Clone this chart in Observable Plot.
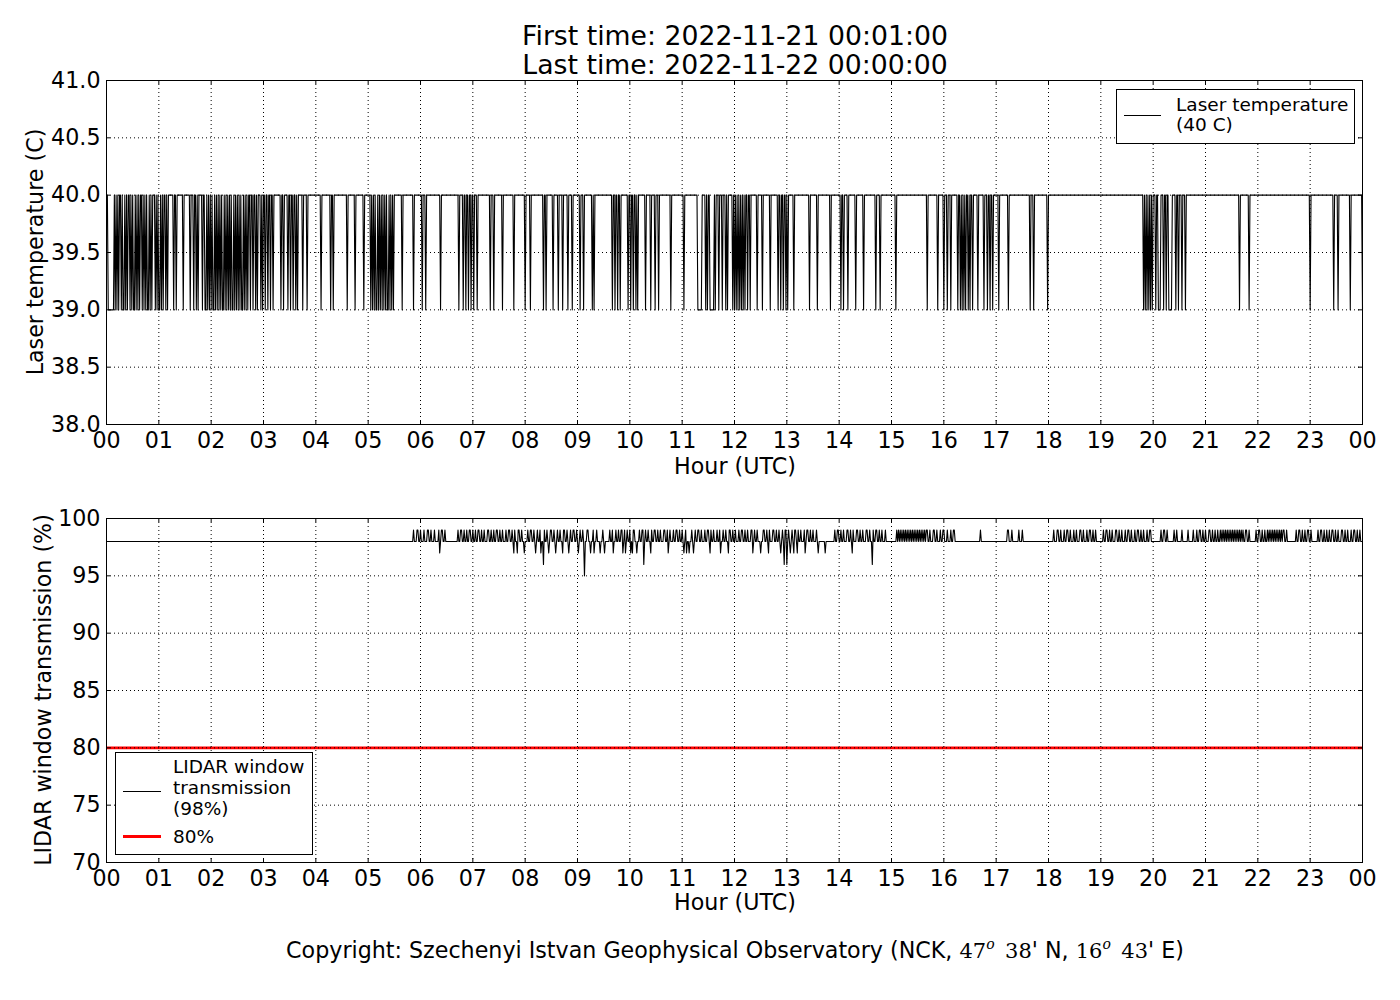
<!DOCTYPE html>
<html>
<head>
<meta charset="utf-8">
<script src="https://cdn.jsdelivr.net/npm/d3@7"></script>
<script src="https://cdn.jsdelivr.net/npm/@observablehq/plot@0.6"></script>
<style>
  html, body { margin: 0; padding: 0; background: #fff; }
  #root { position: relative; width: 1400px; height: 1000px; font-family: "DejaVu Sans", sans-serif; color: #000; overflow: hidden; }
  .abs { position: absolute; white-space: nowrap; }
  .center { transform: translate(-50%, -50%); }
  .rot { transform: translate(-50%, -50%) rotate(-90deg); }
  .legend { position: absolute; border: 1px solid #000; background: #fff; box-sizing: border-box; }
  .m { font-family: "DejaVu Serif", serif; font-size: 21px; }
  .m sup { font-style: italic; font-size: 14px; vertical-align: 9px; line-height: 0; }
</style>
</head>
<body>
<div id="root">
  <div class="abs center" style="left:735px; top:35px; font-size:26.7px;">First time: 2022-11-21 00:01:00</div>
  <div class="abs center" style="left:735px; top:64px; font-size:26.7px;">Last time: 2022-11-22 00:00:00</div>

  <div id="top" class="abs" style="left:0; top:70px;"></div>
  <div id="bottom" class="abs" style="left:0; top:508px;"></div>

  <div class="abs rot" style="left:35px; top:252px; font-size:22.2px;">Laser temperature (C)</div>
  <div class="abs center" style="left:735px; top:466px; font-size:22.2px;">Hour (UTC)</div>
  <div class="abs rot" style="left:43px; top:690px; font-size:22.2px;">LIDAR window transmission (%)</div>
  <div class="abs center" style="left:735px; top:902px; font-size:22.2px;">Hour (UTC)</div>

  <div class="legend" style="left:1116px; top:89px; width:239px; height:55px;">
    <div class="abs" style="left:7px; top:25px; width:37px; height:0; border-top:1px solid #000;"></div>
    <div class="abs" style="left:59px; top:5px; font-size:18.5px; line-height:20px;">Laser temperature<br>(40 C)</div>
  </div>

  <div class="legend" style="left:115px; top:752px; width:198px; height:103px;">
    <div class="abs" style="left:7px; top:38px; width:38px; height:0; border-top:1px solid #000;"></div>
    <div class="abs" style="left:57px; top:3px; font-size:18.5px; line-height:21px;">LIDAR window<br>transmission<br>(98%)</div>
    <div class="abs" style="left:7px; top:82px; width:38px; height:3px; background:#ff0000;"></div>
    <div class="abs" style="left:57px; top:73px; font-size:18.5px; line-height:21px;">80%</div>
  </div>

  <div class="abs center" style="left:735px; top:950px; font-size:22.2px;">Copyright: Szechenyi Istvan Geophysical Observatory (NCK, <span class="m">47<sup>o</sup>&ensp;38</span>' N, <span class="m">16<sup>o</sup>&ensp;43</span>' E)</div>
</div>

<script>
// ---------- axis ticks ----------
const hourTicks = [0,1,2,3,4,5,6,7,8,9,10,11,12,13,14,15,16,17,18,19,20,21,22,23,24];
const hourLabels = ["00","01","02","03","04","05","06","07","08","09","10","11","12","13","14","15","16","17","18","19","20","21","22","23","00"];
const laserTicks = [38.0, 38.5, 39.0, 39.5, 40.0, 40.5, 41.0];
const laserTickLabels = ["38.0","38.5","39.0","39.5","40.0","40.5","41.0"];
const windowTicks = [70, 75, 80, 85, 90, 95, 100];
const windowTickLabels = ["70","75","80","85","90","95","100"];

// ---------- data ----------
// one sample per minute, 00:01 .. 24:00
const firstMinute = 1, lastMinute = 1440;
const laserLevel = 40, laserLow = 39;
// [start minute, duration in minutes] at 39 C
const laserDips = [
  [2,7],[10,1],[12,1],[14,1],[17,1],[19,2],[22,1],[24,1],[27,1],[29,1],[31,2],[34,1],[36,1],[38,1],[41,1],[43,1],[45,1],[47,2],[50,1],[52,1],
  [56,1],[58,1],[60,2],[63,1],[65,1],[68,1],[70,1],[77,1],[80,1],[88,1],[96,1],[100,1],[103,1],[105,1],
  [110,1],[113,2],[116,1],[118,1],[120,1],[122,2],[125,1],[127,1],[129,1],[131,1],[133,2],[136,1],[138,1],[140,1],[142,1],[144,2],[147,1],[149,1],[151,1],[153,1],[155,2],[158,1],[160,1],[162,1],
  [165,1],[168,1],[171,1],[173,1],[177,1],[179,1],[182,1],[185,1],[188,1],[191,1],[200,1],[203,1],[208,1],[211,1],[214,1],[217,1],[219,1],[225,1],[230,1],
  [246,1],[257,1],[260,1],[276,1],[285,1],[295,1],
  [303,1],[305,1],[307,1],[309,2],[312,1],[314,1],[316,1],[318,1],[320,1],[322,2],[325,1],[327,1],[329,1],
  [339,1],[352,1],[362,1],[366,1],[383,1],[404,1],[409,1],[412,1],[415,1],[418,1],[421,1],[425,1],
  [440,1],[444,1],[454,1],[467,1],[480,1],[486,1],[501,1],[504,1],[512,1],[518,1],[523,1],[529,1],[534,1],[543,1],[547,1],[557,1],[559,1],
  [580,1],[583,1],[586,1],[589,1],[598,1],[601,1],[604,1],[607,1],[609,1],[618,1],[624,1],[629,1],[633,1],[647,1],[662,1],
  [678,5],[687,1],[689,1],[692,5],[698,1],[702,1],[706,1],[710,1],[712,1],
  [718,1],[720,1],[722,1],[724,1],[726,1],[728,1],[730,1],[732,1],[735,1],[738,1],[746,1],[752,1],[761,1],[770,1],[773,1],[776,1],[779,1],[781,1],[788,1],
  [806,1],[815,1],[830,1],[842,1],[845,1],[850,1],[859,1],[868,1],[882,1],[887,1],[905,1],[941,1],[953,1],[960,1],[964,1],[968,1],[976,1],
  [979,1],[981,1],[983,1],[985,1],[988,1],[990,1],[993,1],[999,1],[1006,1],[1010,1],[1013,1],[1016,1],[1023,1],[1034,1],[1059,1],[1063,1],[1079,1],
  [1189,1],[1191,1],[1193,1],[1195,1],[1197,1],[1199,1],[1203,1],[1206,3],[1212,1],[1215,1],[1218,4],[1226,1],[1229,1],[1233,1],[1237,1],
  [1299,1],[1310,1],[1380,1],[1407,1],[1412,1],[1426,1],[1440,1]
];

const windowLevel = 98, windowHigh = 99, windowThreshold = 80;
// [start minute, duration] at 99 %
const windowSpikes = [
  [352,1],[356,2],[360,1],[364,1],[368,2],[372,1],[376,1],[381,1],[384,2],[388,1],
  [403,1],[406,2],[410,1],[413,1],[416,2],[420,1],[423,1],[426,2],[430,1],[433,1],[437,2],[441,1],[444,1],[447,2],[451,1],[454,1],[458,1],[461,2],[465,1],[468,1],[472,2],[476,1],[479,1],[483,1],[486,2],[490,1],[494,1],[497,2],[502,1],[505,1],[509,2],[513,1],[517,1],[520,1],[524,2],[528,1],[532,1],[535,2],[539,1],[543,1],[546,1],[551,2],[555,1],[558,1],[562,1],
  [569,1],[577,1],[580,2],[584,1],[587,1],[590,2],[594,1],[597,1],[600,1],[604,2],[608,1],[611,1],[614,2],[618,1],[621,1],[625,1],[628,2],[632,1],[635,1],[639,2],[643,1],[646,1],[650,1],[653,2],[657,1],[660,1],[664,2],[668,1],[671,1],[675,1],[678,2],[682,1],[686,1],[689,2],[693,1],[696,1],[700,1],[703,2],[707,1],[710,1],[714,2],[718,1],[721,1],[725,1],[728,2],[732,1],[735,1],[739,2],[743,1],[746,1],[750,1],[753,2],[757,1],[760,1],[764,2],[768,1],[771,1],[775,1],[778,2],[782,1],[786,1],[789,2],[793,1],[796,1],[800,1],[803,2],[807,1],[810,1],[814,1],
  [835,1],[838,2],[842,1],[845,1],[849,2],[853,1],[856,1],[860,2],[864,1],[867,1],[871,2],[875,1],[879,1],[882,2],[886,1],[889,1],[893,1],
  [906,1],[908,1],[910,1],[912,1],[914,1],[916,1],[918,1],[920,1],[922,1],[924,1],[926,1],[928,1],[930,1],[932,1],[934,1],[936,1],[938,1],[940,2],[944,1],
  [948,2],[952,1],[956,1],[959,2],[964,1],[968,1],[971,2],
  [1002,1],[1033,2],[1038,1],[1046,1],[1050,1],
  [1086,1],[1090,2],[1094,1],[1098,1],[1101,2],[1105,1],[1109,1],[1112,1],[1116,2],[1120,1],[1124,1],[1127,2],[1131,1],[1134,1],
  [1143,1],[1146,2],[1150,1],[1153,1],[1157,2],[1161,1],[1164,1],[1168,1],[1171,2],[1175,1],[1179,1],[1182,2],[1186,1],[1189,1],[1193,1],[1196,2],
  [1209,1],[1212,2],[1216,1],[1224,1],[1227,1],[1233,1],[1240,1],[1246,1],
  [1250,1],[1253,2],[1257,1],[1260,1],[1264,2],[1268,1],[1271,1],[1274,1],[1277,1],[1279,1],[1281,1],[1283,1],[1285,1],[1287,1],[1289,1],[1291,1],[1293,1],[1295,1],[1297,1],[1299,1],[1301,1],[1303,1],[1306,2],[1310,1],
  [1318,1],[1321,2],[1325,1],[1328,1],[1331,1],[1333,1],[1335,1],[1337,1],[1339,1],[1341,1],[1343,1],[1345,1],[1347,1],[1349,2],[1353,1],
  [1364,1],[1367,2],[1371,1],[1374,1],[1377,2],[1381,1],
  [1389,1],[1392,2],[1396,1],[1399,1],[1402,1],[1405,2],[1409,1],[1412,1],[1416,2],[1420,1],[1423,1],[1427,1],[1430,2],[1434,1],[1437,1]
];
// [minute, value] drops below 98 %
const windowDrops = [
  [382,97],[467,97],[471,97],[479,97],[492,97],[498,97],[501,96],[507,97],[515,97],[523,97],[530,97],[541,97],[548,95],[555,97],[559,97],
  [566,97],[571,97],[581,97],[592,97],[595,97],[601,97],[603,97],[608,97],[616,96],[624,97],[644,97],[662,97],[665,97],[668,97],[673,97],
  [692,97],[704,97],[713,97],[741,97],[750,97],[759,97],[773,97],[777,96],[780,96],[784,97],[788,97],[792,97],[801,97],[816,97],[824,97],
  [855,97],[878,96]
];

// ---------- build series ----------
const minutes = d3.range(firstMinute, lastMinute + 1);
const laserSeries = minutes.map(m => ({h: m / 60, v: laserLevel}));
for (const [s, len] of laserDips) for (let m = s; m < s + len; m++) if (m >= firstMinute && m <= lastMinute) laserSeries[m - firstMinute].v = laserLow;

const windowSeries = minutes.map(m => ({h: m / 60, v: windowLevel}));
for (const [s, len] of windowSpikes) for (let m = s; m < s + len; m++) if (m >= firstMinute && m <= lastMinute) windowSeries[m - firstMinute].v = windowHigh;
for (const [m, v] of windowDrops) windowSeries[m - firstMinute].v = v;

// ---------- panels ----------
const W = 1400, H = 410, mL = 106, mR = 38, mT = 10, mB = 56;
const frameW = W - mL - mR, frameH = H - mT - mB;
const tickLen = 4;
const tickFont = 22.2;

function panel({data, yDomain, yTicks, yLabels, extra = []}) {
  return Plot.plot({
    width: W, height: H,
    marginLeft: mL, marginRight: mR, marginTop: mT, marginBottom: mB,
    style: {fontFamily: "DejaVu Sans", fontSize: tickFont + "px", color: "#000", background: "transparent", overflow: "visible"},
    x: {domain: [0, 24], axis: null},
    y: {domain: yDomain, axis: null},
    marks: [
      ...extra,
      Plot.ruleX(hourTicks, {x: d => d, stroke: "#000", strokeWidth: 1, strokeDasharray: "1,3"}),
      Plot.ruleY(yTicks, {y: d => d, stroke: "#000", strokeWidth: 1, strokeDasharray: "1,3"}),
      Plot.line(data, {x: "h", y: "v", stroke: "#000", strokeWidth: 1.1}),
      Plot.tickX(hourTicks, {x: d => d, stroke: "#000", insetTop: frameH - tickLen}),
      Plot.tickX(hourTicks, {x: d => d, stroke: "#000", insetBottom: frameH - tickLen}),
      Plot.tickY(yTicks, {y: d => d, stroke: "#000", insetRight: frameW - tickLen}),
      Plot.tickY(yTicks, {y: d => d, stroke: "#000", insetLeft: frameW - tickLen}),
      Plot.frame({stroke: "#000", strokeWidth: 1}),
      Plot.axisX(hourTicks, {anchor: "bottom", tickSize: 0, tickPadding: 8, fontSize: tickFont, tickFormat: (d, i) => hourLabels[i], label: null}),
      Plot.axisY(yTicks, {anchor: "left", tickSize: 0, tickPadding: 6, fontSize: tickFont, tickFormat: (d, i) => yLabels[i], label: null})
    ]
  });
}

document.getElementById("top").appendChild(panel({
  data: laserSeries, yDomain: [38, 41], yTicks: laserTicks, yLabels: laserTickLabels
}));

document.getElementById("bottom").appendChild(panel({
  data: windowSeries, yDomain: [70, 100], yTicks: windowTicks, yLabels: windowTickLabels,
  extra: [Plot.ruleY([windowThreshold], {y: d => d, stroke: "#ff0000", strokeWidth: 2.6})]
}));
</script>
</body>
</html>
